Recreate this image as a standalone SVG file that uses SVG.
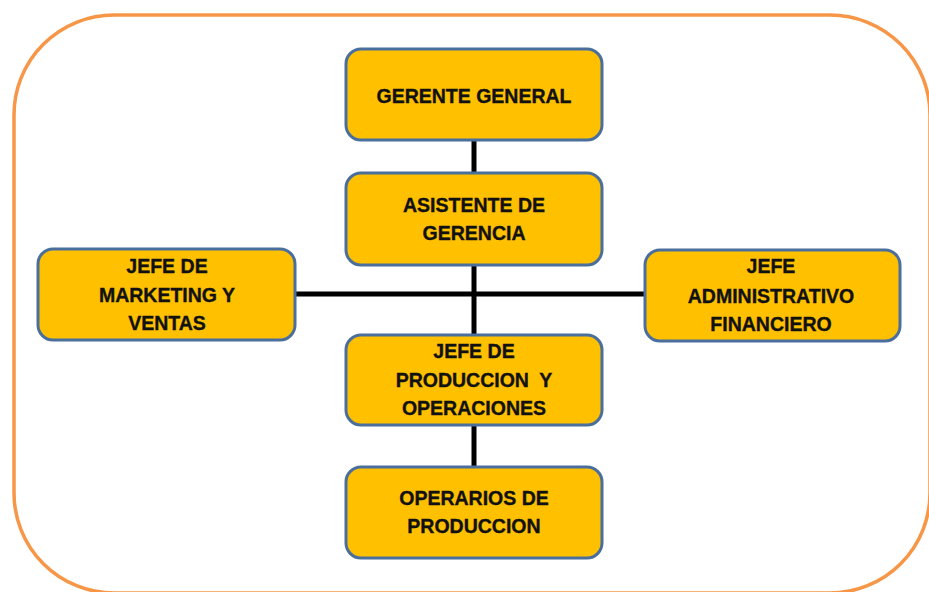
<svg xmlns="http://www.w3.org/2000/svg" width="929" height="592" viewBox="0 0 929 592">
<style>
.frame{fill:#ffffff;stroke:#F79646;stroke-width:3.5}
.box{fill:#FFC000;stroke:#4A6F9C;stroke-width:3}
.lbl{font-family:"Liberation Sans",Arial,sans-serif;font-weight:bold;font-size:19.5px;fill:#111;stroke:#111;stroke-width:0.35;text-anchor:middle;white-space:pre}
.conn{stroke:#000;stroke-width:5;fill:none}
</style>
<rect width="929" height="592" fill="#ffffff"/>
<rect class="frame" x="14" y="15" width="916" height="578" rx="100" ry="100"/>
<g id="connectors">
<line class="conn" x1="474" y1="140" x2="474" y2="172"/>
<line class="conn" x1="474" y1="265" x2="474" y2="335"/>
<line class="conn" x1="474" y1="425" x2="474" y2="467"/>
<line class="conn" x1="295" y1="294" x2="645" y2="294"/>
</g>
<g id="gerente">
<rect class="box" x="346" y="49" width="256" height="91" rx="15"/>
<text class="lbl" x="474" y="103">GERENTE GENERAL</text>
</g>
<g id="asistente">
<rect class="box" x="346" y="173" width="256" height="92" rx="15"/>
<text class="lbl" x="474" y="212">ASISTENTE DE</text>
<text class="lbl" x="474" y="240">GERENCIA</text>
</g>
<g id="marketing">
<rect class="box" x="38" y="249" width="257" height="91" rx="15"/>
<text class="lbl" x="167" y="273">JEFE DE</text>
<text class="lbl" x="167" y="302">MARKETING Y</text>
<text class="lbl" x="167" y="330">VENTAS</text>
</g>
<g id="administrativo">
<rect class="box" x="645" y="250" width="255" height="91" rx="15"/>
<text class="lbl" x="771" y="273">JEFE</text>
<text class="lbl" x="771" y="303">ADMINISTRATIVO</text>
<text class="lbl" x="771" y="331">FINANCIERO</text>
</g>
<g id="produccion">
<rect class="box" x="346" y="335" width="256" height="90" rx="15"/>
<text class="lbl" x="474" y="358">JEFE DE</text>
<text class="lbl" x="474" y="387" xml:space="preserve">PRODUCCION  Y</text>
<text class="lbl" x="474" y="415">OPERACIONES</text>
</g>
<g id="operarios">
<rect class="box" x="346" y="467" width="256" height="91" rx="15"/>
<text class="lbl" x="474" y="505">OPERARIOS DE</text>
<text class="lbl" x="474" y="533">PRODUCCION</text>
</g>
</svg>
